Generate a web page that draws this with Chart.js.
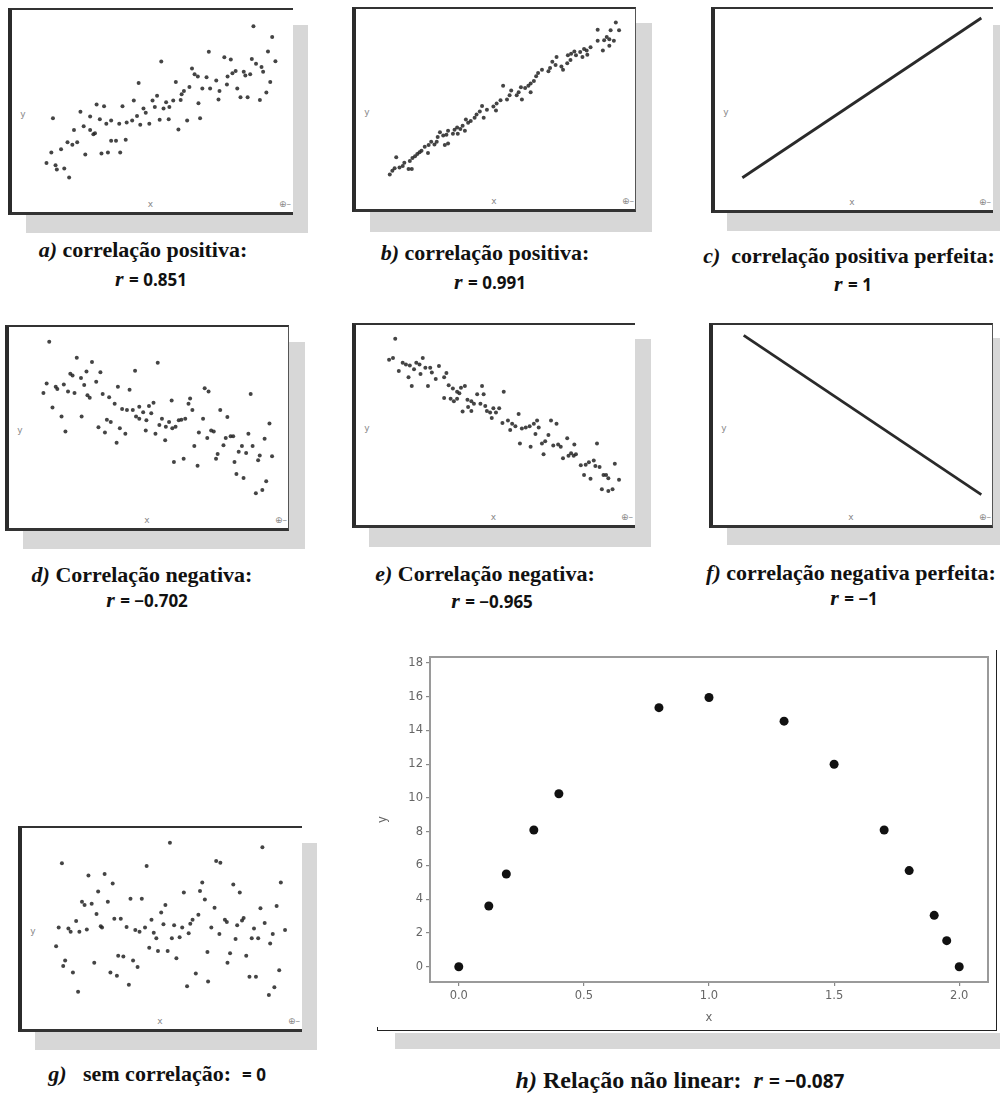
<!DOCTYPE html>
<html>
<head>
<meta charset="utf-8">
<script src="https://cdn.jsdelivr.net/npm/chart.js@4.4.1/dist/chart.umd.min.js"></script>
<style>
  body { margin: 0; background: #fff; width: 1000px; height: 1093px; position: relative; overflow: hidden; }
  .shadow { position: absolute; background: #d7d7d7; }
  .frame { position: absolute; box-sizing: border-box; background: #fff;
           border-left: 4px solid #2b2b2b; border-top: 2px solid #333; border-bottom: 3px solid #333; }
  .frame.rb { border-right: 1px solid #555; }
  canvas { position: absolute; }
  .lbl { position: absolute; transform: translate(-50%, -50%); font: 9px "DejaVu Sans", sans-serif; color: #888; white-space: nowrap; }
  .cap { position: absolute; transform: translate(-50%, -50%); white-space: nowrap;
         font: bold 22px "Liberation Serif", serif; color: #111; }
  .cap.big { font-size: 24px; }
  .num { font-family: "Open Sans", sans-serif; font-weight: 700; font-size: 17px; }
  .big .num { font-size: 19px; }
</style>
</head>
<body>
<script>
// pontos (unidades = pixels da ampliação 3x de cada painel, y para baixo)
const aX = [770,828,632,680,700,485,815,838,765,778,580,588,598,625,655,690,705,715,740,745,760,795,800,530,415,572,612,636,665,688,720,822,555,548,472,458,400,500,522,545,510,492,465,430,600,285,308,365,437,410,235,150,265,295,315,330,355,378,395,420,448,480,508,565,605,538,662,730,752,790,810,245,265,215,275,280,330,345,375,195,210,225,175,145,250,300,320,358,130,158,162,185,200];
const aY = [68,102,148,165,172,178,147,177,170,185,200,218,225,227,237,225,215,208,210,222,218,195,210,242,245,258,262,262,270,250,262,242,270,280,285,300,300,305,300,298,320,325,320,325,308,312,318,318,338,348,335,355,350,358,372,362,372,368,362,375,372,360,358,362,355,390,297,290,290,298,275,380,392,392,405,402,425,425,422,430,438,430,452,462,468,465,462,462,495,502,515,512,540];

const bX = [868,812,852,878,840,812,832,848,862,848,828,790,778,770,740,745,758,730,720,765,780,728,718,685,672,682,700,705,665,660,640,628,622,615,605,598,588,575,568,562,578,605,545,540,520,532,512,500,490,498,470,455,460,448,438,432,420,412,405,395,388,378,370,365,350,345,335,325,318,315,308,298,290,288,278,268,262,255,248,240,232,215,210,200,190,185,178,170,228,238,350,340,380,402];
const bY = [58,80,82,82,103,115,113,110,115,130,145,135,145,140,148,160,150,155,160,165,158,175,185,165,180,190,195,205,200,210,205,215,225,240,248,255,262,260,275,285,298,275,270,285,255,298,300,310,320,332,330,318,355,335,345,355,365,370,360,380,390,385,392,405,395,408,410,400,415,430,438,430,440,465,445,458,462,468,475,480,490,495,505,510,478,512,520,532,515,515,435,440,405,395];

const cX = [218, 935];
const cY = [535, 55];

const dX = [140,225,272,475,405,255,298,205,212,238,285,132,160,165,185,248,352,388,198,218,122,258,265,305,325,342,365,380,398,418,448,462,430,455,408,488,440,418,318,330,292,190,312,358,375,438,468,480,500,510,520,530,540,548,560,518,575,570,582,620,632,762,668,690,615,498,348,240,178,150,602,640,648,628,685,700,708,588,660,655,678,712,725,735,748,768,755,805,820,790,785,828,525,555,598,718,740,778,798,810];
const dY = [85,135,148,150,175,178,180,185,190,198,210,215,225,232,218,220,225,235,240,245,245,252,260,248,258,278,295,298,298,288,285,275,305,308,318,325,330,325,328,335,352,365,368,355,372,362,372,345,350,335,355,350,330,328,325,268,262,278,298,230,240,248,298,320,325,392,400,318,318,290,368,362,365,385,385,380,380,410,435,450,408,460,428,410,432,410,372,388,340,440,455,442,460,450,472,498,510,558,548,520];

const eX = [187,168,180,198,210,220,232,245,252,262,272,265,280,295,300,312,322,345,338,228,238,288,352,365,378,390,402,385,338,358,368,378,410,422,430,440,455,460,450,465,470,412,395,422,480,490,508,498,485,522,518,535,542,548,558,568,578,590,602,615,625,630,572,605,620,640,645,650,660,668,685,675,690,698,705,718,722,730,740,745,738,760,770,775,790,785,800,810,805,818,830,838,845,825,845,858,865,878];
const eY = [75,140,135,175,150,155,158,170,150,155,135,185,165,165,180,200,160,182,195,195,222,222,220,230,240,228,222,245,260,262,270,262,265,270,278,248,222,248,278,285,300,288,302,300,305,292,292,305,322,240,338,330,360,340,348,310,355,352,348,340,330,352,402,412,372,402,435,395,375,330,340,408,405,412,448,385,440,432,405,435,440,470,500,468,512,460,455,402,472,475,500,500,510,545,550,545,465,515];

const fX = [220, 932];
const fY = [75, 552];

const gX = [512,798,178,655,668,440,260,310,335,612,708,855,290,555,605,728,240,248,270,320,390,425,620,650,792,842,498,485,285,340,360,455,492,525,550,575,582,600,682,688,740,735,720,805,222,168,198,205,232,255,298,302,378,405,418,435,462,470,518,542,570,640,665,715,772,765,785,830,822,868,160,188,182,278,212,228,352,368,398,412,328,348,385,448,475,505,532,565,592,630,628,690,698,748,758,778,818,835,850];
const gY = [88,102,152,145,150,160,190,185,215,212,218,212,240,243,238,243,272,282,278,272,262,262,265,290,292,285,282,305,310,325,325,328,342,345,352,340,328,312,328,335,322,330,345,338,332,352,355,365,365,358,348,352,350,360,365,352,368,385,385,382,370,352,372,388,355,385,385,372,402,360,410,455,472,462,492,552,440,442,455,475,492,502,530,415,425,425,448,535,495,520,428,462,432,440,505,505,562,538,485];

// painel h: relação não linear
const hX = [0, 0.12, 0.19, 0.3, 0.4, 0.8, 1.0, 1.3, 1.5, 1.7, 1.8, 1.9, 1.95, 2.0];
const hY = [0, 3.6, 5.5, 8.1, 10.25, 15.35, 15.95, 14.55, 12.0, 8.1, 5.7, 3.05, 1.55, 0];
const hXTicks = [0, 0.5, 1.0, 1.5, 2.0];
const hYTicks = [0, 2, 4, 6, 8, 10, 12, 14, 16, 18];

const captions = [
  [143, 250, '<i>a)</i> correlação positiva:'],
  [151, 279, '<i>r</i> <span class="num">= 0.851</span>'],
  [485, 253, '<i>b)</i> correlação positiva:'],
  [490, 282, '<i>r</i> <span class="num">= 0.991</span>'],
  [849, 256, '<i>c)</i>&nbsp; correlação positiva perfeita:'],
  [853, 284, '<i>r</i> <span class="num">= 1</span>'],
  [142, 575, '<i>d)</i> Correlação negativa:'],
  [147, 600, '<i>r</i> <span class="num">= −0.702</span>'],
  [485, 574, '<i>e)</i> Correlação negativa:'],
  [492, 601, '<i>r</i> <span class="num">= −0.965</span>'],
  [851, 573, '<i>f)</i> correlação negativa perfeita:'],
  [854, 598, '<i>r</i> <span class="num">= −1</span>'],
  [157, 1074, '<i>g)</i>&nbsp;&nbsp; sem correlação:&nbsp; <span class="num">= 0</span>'],
  [680, 1080, '<i>h)</i> Relação não linear:&nbsp; <i>r</i> <span class="num">= −0.087</span>', 'big']
];

function box(el, l, t, r, b) {
  el.style.left = l + 'px';
  el.style.top = t + 'px';
  el.style.width = (r - l) + 'px';
  el.style.height = (b - t) + 'px';
  document.body.appendChild(el);
  return el;
}

function label(text, x, y) {
  const d = document.createElement('div');
  d.className = 'lbl';
  d.textContent = text;
  d.style.left = x + 'px';
  d.style.top = y + 'px';
  document.body.appendChild(d);
}

// os sete painéis pequenos
const panels = [
  { xs: aX, ys: aY, off: [0, 0],     reg: [45, 880, 30, 635],  frame: [8, 8, 293, 215],     rb: false, shadow: [26, 25, 308, 233] },
  { xs: bX, ys: bY, off: [330, 0],   reg: [75, 918, 25, 630],  frame: [352, 7, 636, 212],   rb: true,  shadow: [370, 23, 652, 232] },
  { xs: cX, ys: cY, off: [670, 0],   reg: [130, 970, 25, 635], frame: [711, 7, 993, 213],   rb: false, shadow: [727, 25, 1000, 231], line: true },
  { xs: dX, ys: dY, off: [0, 310],   reg: [25, 868, 45, 660],  frame: [5, 325, 289, 531],   rb: true,  shadow: [23, 342, 305, 549] },
  { xs: eX, ys: eY, off: [330, 310], reg: [72, 915, 38, 650],  frame: [352, 323, 635, 528], rb: false, shadow: [369, 339, 651, 547] },
  { xs: fX, ys: fY, off: [670, 310], reg: [128, 970, 38, 655], frame: [709, 323, 993, 528], rb: true,  shadow: [727, 338, 1000, 545], line: true },
  { xs: gX, ys: gY, off: [0, 810],   reg: [70, 905, 48, 662],  frame: [18, 826, 302, 1032], rb: false, shadow: [35, 843, 317, 1050] }
];

panels.forEach(p => {
  const sh = document.createElement('div');
  sh.className = 'shadow';
  box(sh, ...p.shadow);

  const fr = document.createElement('div');
  fr.className = p.rb ? 'frame rb' : 'frame';
  box(fr, ...p.frame);

  const [fl, ft, frr, fb] = p.frame;
  label('y', fl + 15, (ft + fb) / 2 + 2);
  label('x', (fl + frr) / 2, fb - 11);
  label('⊕–', frr - 8, fb - 11);

  const l = p.off[0] + p.reg[0] / 3, r = p.off[0] + p.reg[1] / 3;
  const t = p.off[1] + p.reg[2] / 3, b = p.off[1] + p.reg[3] / 3;
  const cv = document.createElement('canvas');
  cv.width = Math.round(r - l);
  cv.height = Math.round(b - t);
  cv.style.left = l + 'px';
  cv.style.top = t + 'px';
  document.body.appendChild(cv);

  new Chart(cv, {
    type: 'scatter',
    data: {
      datasets: [{
        data: p.xs.map((x, i) => ({ x: x, y: p.ys[i] })),
        showLine: !!p.line,
        borderColor: '#2a2a2a',
        borderWidth: 2.8,
        pointRadius: p.line ? 0 : 2,
        pointBackgroundColor: 'rgba(35,35,35,0.85)',
        pointBorderWidth: 0
      }]
    },
    options: {
      responsive: false,
      animation: false,
      events: [],
      layout: { padding: 0 },
      plugins: { legend: { display: false }, tooltip: { enabled: false } },
      scales: {
        x: { type: 'linear', display: false, min: p.reg[0], max: p.reg[1] },
        y: { display: false, min: p.reg[2], max: p.reg[3], reverse: true }
      }
    }
  });
});

// painel h
box(document.createElement('div'), 395, 1033, 1000, 1049).className = 'shadow';
const outer = box(document.createElement('div'), 377, 650, 997, 1031);
outer.style.position = 'absolute';
outer.style.boxSizing = 'border-box';
outer.style.borderBottom = '1.5px solid #222';
outer.style.borderRight = '1.5px solid #222';
const nick = box(document.createElement('div'), 377, 1027, 378, 1031);
nick.style.position = 'absolute';
nick.style.background = '#222';

const hc = document.createElement('canvas');
hc.width = 630;
hc.height = 390;
hc.style.left = '370px';
hc.style.top = '645px';
document.body.appendChild(hc);

const boxPlugin = {
  id: 'box',
  beforeDatasetsDraw(chart) {
    const { ctx, chartArea: a } = chart;
    ctx.save();
    ctx.strokeStyle = '#9a9a9a';
    ctx.lineWidth = 2;
    ctx.strokeRect(a.left, a.top, a.right - a.left, a.bottom - a.top);
    ctx.restore();
  }
};

const tickFont = { family: 'DejaVu Sans', size: 11.5 };

new Chart(hc, {
  type: 'scatter',
  data: {
    datasets: [{
      data: hX.map((x, i) => ({ x: x, y: hY[i] })),
      pointRadius: 4.5,
      pointBackgroundColor: '#111',
      pointBorderWidth: 0
    }]
  },
  options: {
    responsive: false,
    animation: false,
    events: [],
    layout: { padding: { top: 12, right: 12, left: 0, bottom: 0 } },
    plugins: { legend: { display: false }, tooltip: { enabled: false } },
    scales: {
      x: {
        type: 'linear', min: -0.115, max: 2.115,
        afterBuildTicks: s => { s.ticks = hXTicks.map(v => ({ value: v })); },
        afterFit: s => { s.height = 53; },
        ticks: { callback: v => v.toFixed(1), color: '#666', font: tickFont, padding: 3, maxRotation: 0, autoSkip: false },
        grid: { drawOnChartArea: false, tickLength: 4, color: '#888', lineWidth: 1.2 },
        border: { display: false },
        title: { display: true, text: 'x', color: '#666', font: tickFont, padding: { top: 0, bottom: 10 } }
      },
      y: {
        min: -0.9, max: 18.35,
        afterBuildTicks: s => { s.ticks = hYTicks.map(v => ({ value: v })); },
        afterFit: s => { s.width = 60; },
        ticks: { callback: v => String(v), color: '#666', font: tickFont, padding: 3, autoSkip: false },
        grid: { drawOnChartArea: false, tickLength: 4, color: '#888', lineWidth: 1.2 },
        border: { display: false },
        title: { display: true, text: 'y', color: '#666', font: tickFont, padding: { top: 6, bottom: 0 } }
      }
    }
  },
  plugins: [boxPlugin]
});

// legendas
captions.forEach(c => {
  const d = document.createElement('div');
  d.className = c[3] ? 'cap ' + c[3] : 'cap';
  d.innerHTML = c[2];
  d.style.left = c[0] + 'px';
  d.style.top = c[1] + 'px';
  document.body.appendChild(d);
});
</script>
</body>
</html>
